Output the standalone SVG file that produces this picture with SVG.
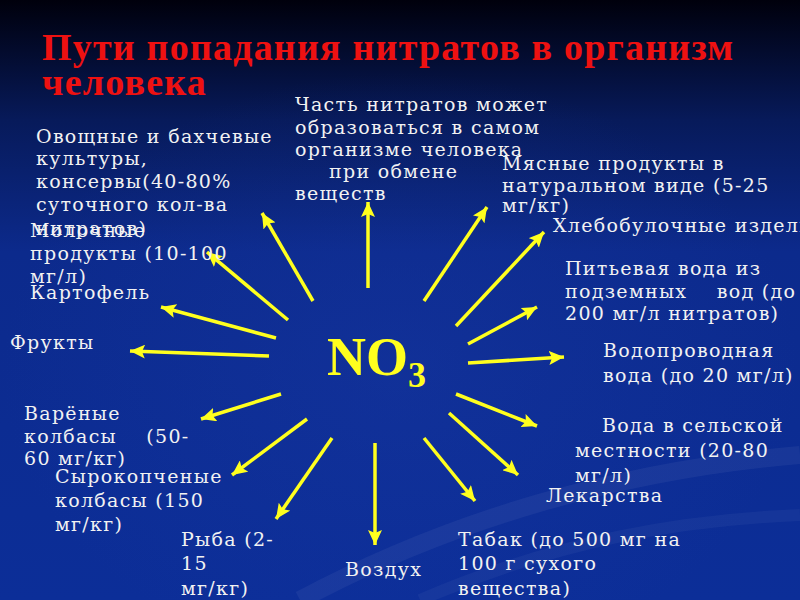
<svg xmlns="http://www.w3.org/2000/svg" width="800" height="600" viewBox="0 0 800 600">
<defs>
<linearGradient id="bg" x1="0" y1="0" x2="0" y2="1">
<stop offset="0" stop-color="#00000c"/>
<stop offset="0.2" stop-color="#071a5a"/>
<stop offset="0.42" stop-color="#0c2a8c"/>
<stop offset="1" stop-color="#0c2e98"/>
</linearGradient>
<radialGradient id="glow" cx="0.5" cy="0.62" r="0.5">
<stop offset="0" stop-color="#1a3aa8" stop-opacity="0.35"/>
<stop offset="1" stop-color="#1a3aa8" stop-opacity="0"/>
</radialGradient>
<marker id="ah" markerUnits="userSpaceOnUse" markerWidth="16" markerHeight="14" refX="15" refY="7" orient="auto">
<path d="M0,0 L15,7 L0,14 L3,7 Z" fill="#ffff1e"/>
</marker>
<style>
.t{font-family:"DejaVu Serif","Liberation Serif",serif;font-size:19px;fill:#f2f2f2;letter-spacing:1.3px}
.title{font-family:"Liberation Serif","DejaVu Serif",serif;font-size:38px;font-weight:bold;fill:#ee1111;letter-spacing:1.2px}
.arr line{stroke:#ffff1e;stroke-width:3.5;marker-end:url(#ah)}
.no{font-family:"Liberation Serif","DejaVu Serif",serif;font-weight:bold;fill:#ffff1e}
</style>
</defs>
<rect x="0" y="0" width="800" height="600" fill="url(#bg)"/>
<rect x="0" y="0" width="800" height="600" fill="url(#glow)"/>
<path d="M300,600 C450,520 620,470 800,455" fill="none" stroke="#ffffff" stroke-opacity="0.05" stroke-width="18"/>
<path d="M420,600 C560,540 680,520 800,515" fill="none" stroke="#ffffff" stroke-opacity="0.04" stroke-width="12"/>

<g id="title">
<text class="title" x="42" y="60">Пути попадания нитратов в организм</text>
<text class="title" x="42" y="95">человека</text>
</g>

<g id="center">
<text class="no" x="327" y="375" font-size="54">NO<tspan font-size="36" y="387">3</tspan></text>
</g>

<g id="connectors" class="arr">
<line x1="368" y1="288" x2="368" y2="202"/>
<line x1="313" y1="301" x2="262" y2="213"/>
<line x1="288" y1="320" x2="207" y2="252"/>
<line x1="276" y1="338" x2="161" y2="307"/>
<line x1="269" y1="356" x2="130" y2="351"/>
<line x1="424" y1="301" x2="487" y2="207"/>
<line x1="456" y1="326" x2="544" y2="232"/>
<line x1="468" y1="344" x2="537" y2="307"/>
<line x1="468" y1="363" x2="564" y2="357"/>
<line x1="456" y1="394" x2="537" y2="426"/>
<line x1="449" y1="413" x2="518" y2="475"/>
<line x1="424" y1="438" x2="475" y2="501"/>
<line x1="375" y1="443" x2="375" y2="545"/>
<line x1="281" y1="394" x2="201" y2="419"/>
<line x1="307" y1="419" x2="232" y2="475"/>
<line x1="332" y1="438" x2="276" y2="519"/>
</g>

<g id="n-body">
<text class="t" x="295" y="111">Часть нитратов может</text>
<text class="t" x="295" y="134">образоваться в самом</text>
<text class="t" x="295" y="156">организме человека</text>
<text class="t" x="329" y="178">при обмене</text>
<text class="t" x="295" y="200">веществ</text>
</g>
<g id="n-veg">
<text class="t" x="36" y="143">Овощные и бахчевые</text>
<text class="t" x="36" y="165">культуры,</text>
<text class="t" x="36" y="188">консервы(40-80%</text>
<text class="t" x="36" y="211">суточного кол-ва</text>
<text class="t" x="36" y="235">нитратов)</text>
</g>
<g id="n-milk">
<text class="t" x="30" y="237">Молочные</text>
<text class="t" x="30" y="260">продукты (10-100</text>
<text class="t" x="30" y="283">мг/л)</text>
</g>
<g id="n-potato"><text class="t" x="30" y="299">Картофель</text></g>
<g id="n-fruit"><text class="t" x="10" y="349">Фрукты</text></g>
<g id="n-boiled">
<text class="t" x="24" y="420">Варёные</text>
<text class="t" x="24" y="443" xml:space="preserve">колбасы    (50-</text>
<text class="t" x="24" y="465">60 мг/кг)</text>
</g>
<g id="n-smoked">
<text class="t" x="55" y="483">Сырокопченые</text>
<text class="t" x="55" y="507">колбасы (150</text>
<text class="t" x="55" y="531">мг/кг)</text>
</g>
<g id="n-fish">
<text class="t" x="181" y="546">Рыба (2-</text>
<text class="t" x="181" y="570">15</text>
<text class="t" x="181" y="595">мг/кг)</text>
</g>
<g id="n-air"><text class="t" x="345" y="576">Воздух</text></g>
<g id="n-tobacco">
<text class="t" x="458" y="546">Табак (до 500 мг на</text>
<text class="t" x="458" y="570">100 г сухого</text>
<text class="t" x="458" y="595">вещества)</text>
</g>
<g id="n-drugs"><text class="t" x="546" y="502">Лекарства</text></g>
<g id="n-rural">
<text class="t" x="602" y="432">Вода в сельской</text>
<text class="t" x="575" y="457">местности (20-80</text>
<text class="t" x="575" y="482">мг/л)</text>
</g>
<g id="n-tap">
<text class="t" x="603" y="357">Водопроводная</text>
<text class="t" x="603" y="382">вода (до 20 мг/л)</text>
</g>
<g id="n-ground">
<text class="t" x="565" y="275">Питьевая вода из</text>
<text class="t" x="565" y="298" xml:space="preserve">подземных    вод (до</text>
<text class="t" x="565" y="320">200 мг/л нитратов)</text>
</g>
<g id="n-bread"><text class="t" x="553" y="232">Хлебобулочные изделия</text></g>
<g id="n-meat">
<text class="t" x="502" y="170">Мясные продукты в</text>
<text class="t" x="502" y="192">натуральном виде (5-25</text>
<text class="t" x="502" y="212">мг/кг)</text>
</g>
</svg>
